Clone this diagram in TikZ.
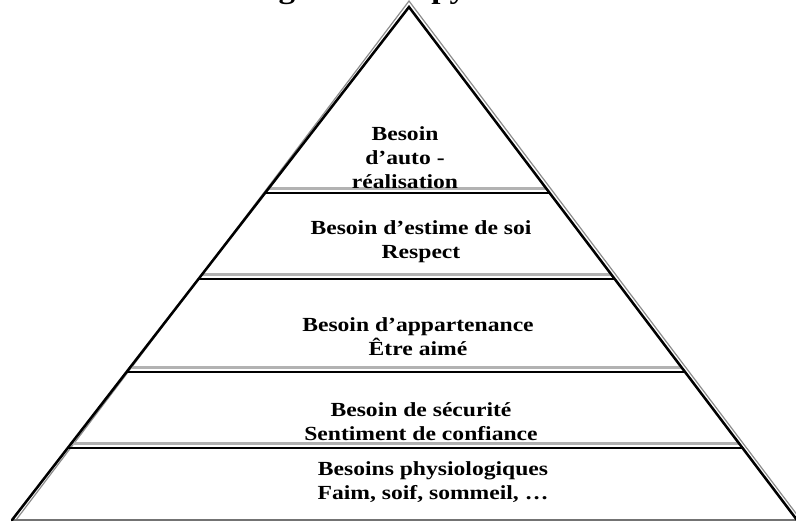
\documentclass[tikz,border=0pt]{standalone}
\usepackage{fontspec}
\setmainfont{Liberation Serif}[FakeStretch=1.18]
\usetikzlibrary{calc}
\begin{document}
\begin{tikzpicture}[x=0.75pt,y=-0.75pt,
  outline/.style={line width=1.9pt,black,line join=miter,line cap=round},
  shadowline/.style={line width=0.9pt,black!45},
  sepline/.style={line width=2.2pt,black},
  sepshadow/.style={line width=1.8pt,black!30},
  baseline/.style={line width=1.6pt,black!55},
  level/.style={align=center,inner sep=0pt,
    font=\fontsize{15}{18}\selectfont\bfseries},
  heading/.style={anchor=base west,inner sep=0pt,
    font=\fontsize{21}{25}\selectfont\bfseries}]

\useasboundingbox (0,0) rectangle (796,522);
\clip (0,0) rectangle (796,522);

% title, cut by the top edge of the page
\node[heading] (title) at (249,-1.5) {Figure 1 : la pyramide des besoins};

% corners of the pyramid
\coordinate (A) at (409,7);
\coordinate (L) at (12,520);
\coordinate (R) at (797,520);

% ends of the four dividing lines
\foreach \n/\f in {1/0.3626,2/0.5302,3/0.7115,4/0.8596}{
  \coordinate (l\n) at ($(A)!\f!(L)$);
  \coordinate (r\n) at ($(A)!\f!(R)$);
}

% grey relief lines
\draw[shadowline] ([xshift=3]L) -- ([yshift=4.5]A) -- ([xshift=3]R);
\foreach \n in {1,...,4}{
  \draw[sepshadow] ([xshift=2,yshift=3.4]l\n) -- ([xshift=-2,yshift=3.4]r\n);
}
\draw[baseline] (L) -- (R);

% black outline and dividing lines
\draw[outline] (L) -- (A) -- (R);
\foreach \n in {1,...,4}{
  \draw[sepline] (l\n) -- (r\n);
}

% labels of the five levels
\node[level] (top)  at (405,158) {Besoin\\d’auto -\\réalisation};
\node[level] (est)  at (421,242) {Besoin d’estime de soi\\Respect};
\node[level] (app)  at (418,337) {Besoin d’appartenance\\Être aimé};
\node[level] (sec)  at (421,422) {Besoin de sécurité\\Sentiment de confiance};
\node[level] (phys) at (433,482) {Besoins physiologiques\\Faim, soif, sommeil, …};
\end{tikzpicture}
\end{document}
